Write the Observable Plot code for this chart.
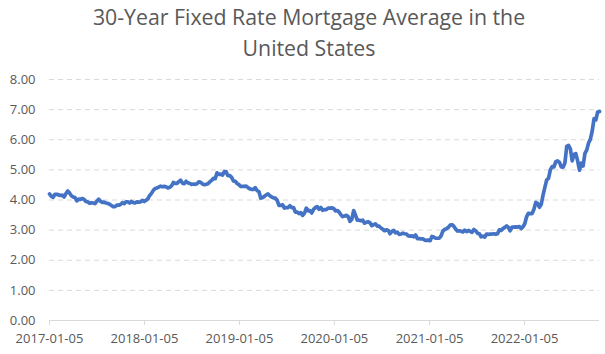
<!DOCTYPE html>
<html>
<head>
<meta charset="utf-8">
<script src="https://cdn.jsdelivr.net/npm/d3@7"></script>
<script src="https://cdn.jsdelivr.net/npm/@observablehq/plot@0.6"></script>
<style>
  body { margin: 0; background: #fff; }
  #wrap { width: 605px; height: 354px; overflow: hidden; background: #fff; }
  #title { width: 605px; height: 66px; box-sizing: border-box; padding-top: 1px; padding-left: 13px;
           font-family: "Open Sans", sans-serif; font-size: 21.3px; line-height: 31px;
           color: #595959; text-align: center; white-space: nowrap; }
  #chart svg { display: block; }
</style>
</head>
<body>
<div id="wrap">
  <div id="title">30-Year Fixed Rate Mortgage Average in the<br>United States</div>
  <div id="chart"></div>
</div>
<script>
const dates2017 = ["2017-01-05","2017-01-12","2017-01-19","2017-01-26","2017-02-02","2017-02-09","2017-02-16","2017-02-23","2017-03-02","2017-03-09","2017-03-16","2017-03-23","2017-03-30","2017-04-06","2017-04-13","2017-04-20","2017-04-27","2017-05-04","2017-05-11","2017-05-18","2017-05-25","2017-06-01","2017-06-08","2017-06-15","2017-06-22","2017-06-29","2017-07-06","2017-07-13","2017-07-20","2017-07-27","2017-08-03","2017-08-10","2017-08-17","2017-08-24","2017-08-31","2017-09-07","2017-09-14","2017-09-21","2017-09-28","2017-10-05","2017-10-12","2017-10-19","2017-10-26","2017-11-02","2017-11-09","2017-11-16","2017-11-22","2017-11-30","2017-12-07","2017-12-14","2017-12-21","2017-12-28"];
const rates2017 = [4.20,4.12,4.09,4.19,4.19,4.17,4.15,4.16,4.10,4.21,4.30,4.23,4.14,4.10,4.08,3.97,4.03,4.02,4.05,4.02,3.95,3.94,3.89,3.91,3.90,3.88,3.96,4.03,3.96,3.92,3.93,3.90,3.89,3.86,3.82,3.78,3.78,3.83,3.83,3.85,3.91,3.88,3.94,3.94,3.90,3.95,3.92,3.90,3.94,3.93,3.94,3.99];

const dates2018 = ["2018-01-04","2018-01-11","2018-01-18","2018-01-25","2018-02-01","2018-02-08","2018-02-15","2018-02-22","2018-03-01","2018-03-08","2018-03-15","2018-03-22","2018-03-29","2018-04-05","2018-04-12","2018-04-19","2018-04-26","2018-05-03","2018-05-10","2018-05-17","2018-05-24","2018-05-31","2018-06-07","2018-06-14","2018-06-21","2018-06-28","2018-07-05","2018-07-12","2018-07-19","2018-07-26","2018-08-02","2018-08-09","2018-08-16","2018-08-23","2018-08-30","2018-09-06","2018-09-13","2018-09-20","2018-09-27","2018-10-04","2018-10-11","2018-10-18","2018-10-25","2018-11-01","2018-11-08","2018-11-15","2018-11-21","2018-11-29","2018-12-06","2018-12-13","2018-12-20","2018-12-27"];
const rates2018 = [3.95,3.99,4.04,4.15,4.22,4.32,4.38,4.40,4.43,4.46,4.44,4.45,4.44,4.40,4.42,4.47,4.58,4.55,4.55,4.61,4.66,4.56,4.54,4.62,4.57,4.55,4.52,4.53,4.52,4.54,4.60,4.59,4.53,4.51,4.52,4.54,4.60,4.65,4.72,4.71,4.90,4.85,4.86,4.83,4.94,4.94,4.81,4.81,4.75,4.63,4.62,4.55];

const dates2019 = ["2019-01-03","2019-01-10","2019-01-17","2019-01-24","2019-01-31","2019-02-07","2019-02-14","2019-02-21","2019-02-28","2019-03-07","2019-03-14","2019-03-21","2019-03-28","2019-04-04","2019-04-11","2019-04-18","2019-04-25","2019-05-02","2019-05-09","2019-05-16","2019-05-23","2019-05-30","2019-06-06","2019-06-13","2019-06-20","2019-06-27","2019-07-03","2019-07-11","2019-07-18","2019-07-25","2019-08-01","2019-08-08","2019-08-15","2019-08-22","2019-08-29","2019-09-05","2019-09-12","2019-09-19","2019-09-26","2019-10-03","2019-10-10","2019-10-17","2019-10-24","2019-10-31","2019-11-07","2019-11-14","2019-11-21","2019-11-27","2019-12-05","2019-12-12","2019-12-19","2019-12-26"];
const rates2019 = [4.51,4.45,4.45,4.45,4.46,4.41,4.37,4.35,4.35,4.41,4.31,4.28,4.06,4.08,4.12,4.17,4.20,4.14,4.10,4.07,4.06,3.99,3.82,3.82,3.84,3.73,3.75,3.75,3.81,3.75,3.75,3.60,3.60,3.55,3.58,3.49,3.56,3.73,3.64,3.65,3.57,3.69,3.75,3.78,3.69,3.75,3.66,3.68,3.68,3.73,3.73,3.74];

const dates2020 = ["2020-01-02","2020-01-09","2020-01-16","2020-01-23","2020-01-30","2020-02-06","2020-02-13","2020-02-20","2020-02-27","2020-03-05","2020-03-12","2020-03-19","2020-03-26","2020-04-02","2020-04-09","2020-04-16","2020-04-23","2020-04-30","2020-05-07","2020-05-14","2020-05-21","2020-05-28","2020-06-04","2020-06-11","2020-06-18","2020-06-25","2020-07-02","2020-07-09","2020-07-16","2020-07-23","2020-07-30","2020-08-06","2020-08-13","2020-08-20","2020-08-27","2020-09-03","2020-09-10","2020-09-17","2020-09-24","2020-10-01","2020-10-08","2020-10-15","2020-10-22","2020-10-29","2020-11-05","2020-11-12","2020-11-19","2020-11-25","2020-12-03","2020-12-10","2020-12-17","2020-12-23","2020-12-30"];
const rates2020 = [3.72,3.64,3.65,3.60,3.51,3.45,3.47,3.49,3.45,3.29,3.36,3.65,3.50,3.33,3.33,3.31,3.33,3.23,3.26,3.28,3.24,3.15,3.18,3.21,3.13,3.13,3.07,3.03,2.98,3.01,2.99,2.88,2.96,2.99,2.91,2.93,2.86,2.87,2.90,2.88,2.87,2.81,2.80,2.81,2.78,2.84,2.72,2.72,2.71,2.71,2.67,2.66,2.67];

const dates2021 = ["2021-01-07","2021-01-14","2021-01-21","2021-01-28","2021-02-04","2021-02-11","2021-02-18","2021-02-25","2021-03-04","2021-03-11","2021-03-18","2021-03-25","2021-04-01","2021-04-08","2021-04-15","2021-04-22","2021-04-29","2021-05-06","2021-05-13","2021-05-20","2021-05-27","2021-06-03","2021-06-10","2021-06-17","2021-06-24","2021-07-01","2021-07-08","2021-07-15","2021-07-22","2021-07-29","2021-08-05","2021-08-12","2021-08-19","2021-08-26","2021-09-02","2021-09-09","2021-09-16","2021-09-23","2021-09-30","2021-10-07","2021-10-14","2021-10-21","2021-10-28","2021-11-04","2021-11-10","2021-11-18","2021-11-24","2021-12-02","2021-12-09","2021-12-16","2021-12-23","2021-12-30"];
const rates2021 = [2.65,2.79,2.77,2.73,2.73,2.73,2.81,2.97,3.02,3.05,3.09,3.17,3.18,3.13,3.04,2.97,2.98,2.96,2.94,3.00,2.95,2.99,2.96,2.93,3.02,2.98,2.90,2.88,2.78,2.80,2.77,2.87,2.86,2.87,2.87,2.88,2.86,2.88,3.01,2.99,3.05,3.09,3.14,3.09,2.98,3.10,3.10,3.11,3.10,3.12,3.05,3.11];

const dates2022 = ["2022-01-06","2022-01-13","2022-01-20","2022-01-27","2022-02-03","2022-02-10","2022-02-17","2022-02-24","2022-03-03","2022-03-10","2022-03-17","2022-03-24","2022-03-31","2022-04-07","2022-04-14","2022-04-21","2022-04-28","2022-05-05","2022-05-12","2022-05-19","2022-05-26","2022-06-02","2022-06-09","2022-06-16","2022-06-23","2022-06-30","2022-07-07","2022-07-14","2022-07-21","2022-07-28","2022-08-04","2022-08-11","2022-08-18","2022-08-25","2022-09-01","2022-09-08","2022-09-15","2022-09-22","2022-09-29","2022-10-06","2022-10-13","2022-10-20"];
const rates2022 = [3.22,3.45,3.56,3.55,3.55,3.69,3.92,3.89,3.76,3.85,4.16,4.42,4.67,4.72,5.00,5.11,5.10,5.27,5.30,5.25,5.10,5.09,5.23,5.78,5.81,5.70,5.30,5.51,5.54,5.30,4.99,5.22,5.13,5.55,5.66,5.89,6.02,6.29,6.70,6.66,6.92,6.94];

const xTickLabels = ["2017-01-05","2018-01-05","2019-01-05","2020-01-05","2021-01-05","2022-01-05"];
const yTickValues = [0,1,2,3,4,5,6,7,8];

const allDates = [...dates2017, ...dates2018, ...dates2019, ...dates2020, ...dates2021, ...dates2022];
const allRates = [...rates2017, ...rates2018, ...rates2019, ...rates2020, ...rates2021, ...rates2022];
const parse = d3.utcParse("%Y-%m-%d");
const data = allDates.map((d, i) => ({date: parse(d), rate: allRates[i]})).filter(d => d.rate != null);
const xTicks = xTickLabels.map(parse);

const chart = Plot.plot({
  width: 605,
  height: 288,
  marginTop: 13,
  marginBottom: 34,
  marginLeft: 49,
  marginRight: 6,
  style: {fontFamily: "'Open Sans', sans-serif", fontSize: "13px", color: "#595959", background: "#fff"},
  x: {type: "utc", domain: [data[0].date, data[data.length - 1].date]},
  y: {domain: [0, 8]},
  marks: [
    Plot.ruleY(yTickValues.filter(v => v > 0), {stroke: "#d9d9d9", strokeWidth: 1, strokeDasharray: "5,4"}),
    Plot.ruleY([0], {stroke: "#d9d9d9", strokeWidth: 1}),
    Plot.axisY({ticks: yTickValues, tickSize: 0, tickPadding: 14, tickFormat: d3.format(".2f"), label: null, fontSize: 13, fill: "#595959"}),
    Plot.axisX({ticks: xTicks, tickSize: 5, tickPadding: 8, tickFormat: d3.utcFormat("%Y-%m-%d"), label: null, stroke: "#d9d9d9", fontSize: 13, fill: "#595959"}),
    Plot.lineY(data, {x: "date", y: "rate", stroke: "#4472C4", strokeWidth: 3.7, strokeLinejoin: "round", strokeLinecap: "round"})
  ]
});
document.getElementById("chart").appendChild(chart);
</script>
</body>
</html>
